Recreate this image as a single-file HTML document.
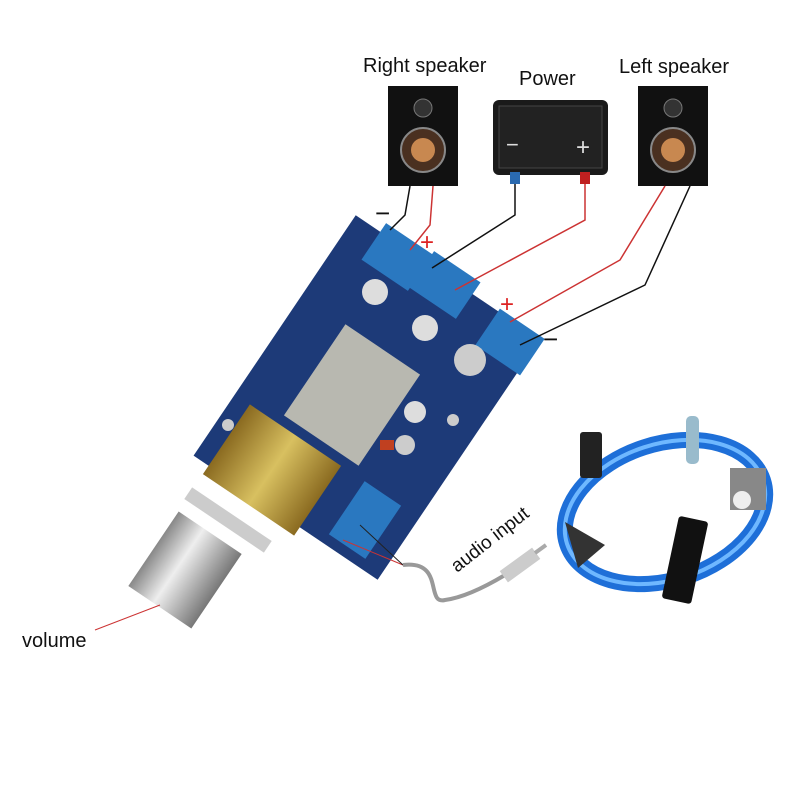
<!DOCTYPE html>
<html><head><meta charset="utf-8"><style>
body{margin:0;background:#fff;width:800px;height:800px;overflow:hidden}
svg{display:block}
text{font-family:"Liberation Sans",sans-serif;fill:#111}
</style></head><body>
<svg width="800" height="800" viewBox="0 0 800 800">
<defs>
<linearGradient id="ks" x1="0" x2="1"><stop offset="0" stop-color="#888"/><stop offset=".4" stop-color="#eee"/><stop offset="1" stop-color="#777"/></linearGradient>
<linearGradient id="br" x1="0" x2="1"><stop offset="0" stop-color="#8a6a20"/><stop offset=".5" stop-color="#d8c060"/><stop offset="1" stop-color="#8a6a20"/></linearGradient>
</defs>
<rect width="800" height="800" fill="#fff"/>
<text x="363" y="72" font-size="20">Right speaker</text>
<text x="519" y="85" font-size="20">Power</text>
<text x="619" y="73" font-size="20">Left speaker</text>
<text x="22" y="647" font-size="20">volume</text>
<text x="0" y="0" font-size="19" transform="translate(457,573) rotate(-38)">audio input</text>
<rect x="388" y="86" width="70" height="100" fill="#111"/>
<circle cx="423" cy="108" r="9" fill="#333" stroke="#777"/>
<circle cx="423" cy="150" r="22" fill="#4a3020" stroke="#888" stroke-width="2"/>
<circle cx="423" cy="150" r="12" fill="#c88850"/>
<rect x="638" y="86" width="70" height="100" fill="#111"/>
<circle cx="673" cy="108" r="9" fill="#333" stroke="#777"/>
<circle cx="673" cy="150" r="22" fill="#4a3020" stroke="#888" stroke-width="2"/>
<circle cx="673" cy="150" r="12" fill="#c88850"/>
<rect x="493" y="100" width="115" height="75" rx="6" fill="#1a1a1a"/>
<rect x="499" y="106" width="103" height="62" fill="#222" stroke="#444"/>
<text x="506" y="152" font-size="22" style="fill:#ddd">−</text>
<text x="576" y="155" font-size="24" style="fill:#ddd">+</text>
<rect x="510" y="172" width="10" height="12" fill="#2a6ab0"/>
<rect x="580" y="172" width="10" height="12" fill="#c02020"/>
<!-- board -->
<rect x="-111" y="-148" width="222" height="290" fill="#1d3a78" transform="translate(365,400) rotate(34)"/>
<rect x="-28" y="-22" width="56" height="44" fill="#2a78c0" transform="translate(397,257) rotate(34)"/>
<rect x="-28" y="-22" width="56" height="44" fill="#2a78c0" transform="translate(445,285) rotate(34)"/>
<rect x="-27" y="-22" width="54" height="44" fill="#2a78c0" transform="translate(510,342) rotate(34)"/>
<rect x="-22" y="-32" width="44" height="64" fill="#2a78c0" transform="translate(365,520) rotate(34)"/>
<rect x="-45" y="-55" width="90" height="110" fill="#b8b8b0" transform="translate(352,395) rotate(34)"/>
<circle cx="375" cy="292" r="13" fill="#ddd"/>
<circle cx="425" cy="328" r="13" fill="#ddd"/>
<circle cx="470" cy="360" r="16" fill="#ccc"/>
<circle cx="415" cy="412" r="11" fill="#ddd"/>
<circle cx="405" cy="445" r="10" fill="#ccc"/>
<circle cx="228" cy="425" r="6" fill="#ccc"/>
<circle cx="453" cy="420" r="6" fill="#ccc"/>
<rect x="380" y="440" width="14" height="10" fill="#c04020"/>
<!-- pot -->
<rect x="-55" y="-42" width="110" height="84" fill="url(#br)" transform="translate(272,470) rotate(34)"/>
<rect x="-48" y="-7" width="96" height="14" fill="#ccc" transform="translate(228,520) rotate(34)"/>
<rect x="-38" y="-45" width="76" height="90" fill="url(#ks)" transform="translate(185,570) rotate(34)"/>
<line x1="95" y1="630" x2="160" y2="605" stroke="#c33" stroke-width="1"/>
<g fill="none" stroke-width="1.5">
<polyline points="410,186 405,215 390,230" stroke="#111"/>
<polyline points="433,186 430,225 410,250" stroke="#c33"/>
<polyline points="515,184 515,215 432,268" stroke="#111"/>
<polyline points="585,184 585,220 455,290" stroke="#c33"/>
<polyline points="665,186 620,260 510,322" stroke="#c33"/>
<polyline points="690,186 645,285 520,345" stroke="#111"/>
</g>
<text x="375" y="222" font-size="26">−</text>
<text x="420" y="250" font-size="24" style="fill:#d22">+</text>
<text x="500" y="312" font-size="24" style="fill:#d22">+</text>
<text x="543" y="348" font-size="26">−</text>
<line x1="343" y1="540" x2="403" y2="565" stroke="#c33"/>
<line x1="360" y1="525" x2="403" y2="565" stroke="#222"/>
<path d="M403,565 C445,560 425,605 445,600 C460,598 480,590 505,575" fill="none" stroke="#999" stroke-width="4"/>
<rect x="-20" y="-7" width="40" height="14" fill="#ccc" transform="translate(520,565) rotate(-36)"/>
<line x1="535" y1="553" x2="546" y2="545" stroke="#aaa" stroke-width="4"/>
<ellipse cx="665" cy="512" rx="103" ry="68" fill="none" stroke="#1e6fd8" stroke-width="16" transform="rotate(-18 665 512)"/>
<ellipse cx="665" cy="512" rx="103" ry="68" fill="none" stroke="#6fb8ff" stroke-width="4" transform="rotate(-18 665 512)"/>
<rect x="580" y="432" width="22" height="46" rx="3" fill="#222"/>
<rect x="686" y="416" width="13" height="48" rx="5" fill="#9bc"/>
<rect x="730" y="468" width="36" height="42" fill="#888"/>
<circle cx="742" cy="500" r="9" fill="#eee"/>
<polygon points="565,522 605,545 578,568" fill="#333"/>
<rect x="-15" y="-42" width="30" height="84" rx="3" fill="#111" transform="translate(685,560) rotate(12)"/>
</svg>
</body></html>
